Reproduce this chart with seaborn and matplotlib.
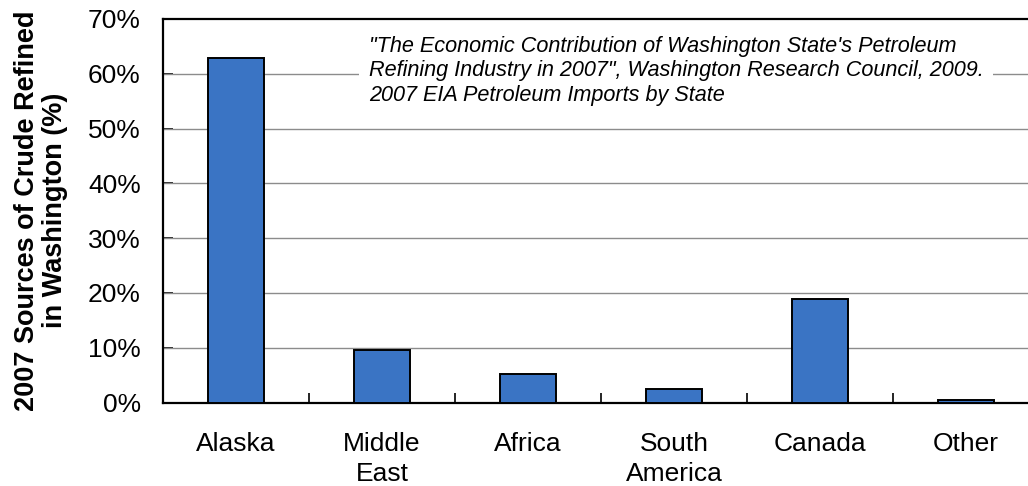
import matplotlib
matplotlib.use("Agg")
import matplotlib.pyplot as plt
import matplotlib.ticker as mticker
import seaborn as sns
import pandas as pd

# Share of crude oil refined in Washington by source region, 2007 (%)
regions = ["Alaska", "Middle\nEast", "Africa", "South\nAmerica", "Canada", "Other"]
shares = [62.8, 9.6, 5.2, 2.4, 18.9, 0.5]
y_ticks = [0, 10, 20, 30, 40, 50, 60, 70]

source_note = ("\"The Economic Contribution of Washington State's Petroleum\n"
               "Refining Industry in 2007\", Washington Research Council, 2009.\n"
               "2007 EIA Petroleum Imports by State")
y_title = "2007 Sources of Crude Refined\nin Washington (%)"

sns.set_theme(style="white")
plt.rcParams["font.family"] = ["Liberation Sans", "DejaVu Sans"]
plt.rcParams["ytick.major.pad"] = 16
plt.rcParams["xtick.major.pad"] = 22

df = pd.DataFrame({"region": regions, "share": shares})

fig = plt.figure(figsize=(10.28, 4.86), dpi=100)
ax = fig.add_axes([163 / 1028, 1 - 402.5 / 486, 876 / 1028, (402.5 - 19) / 486])

sns.barplot(data=df, x="region", y="share", color="#3A74C4", saturation=1,
            edgecolor="black", linewidth=1.4, width=0.39, ax=ax, zorder=3)

ax.set_xlim(-0.5, len(regions) - 0.5)
ax.set_ylim(y_ticks[0], y_ticks[-1])
ax.set_yticks(y_ticks)
ax.yaxis.set_major_formatter(mticker.FuncFormatter(lambda v, _: f"{v:.0f}%"))

# gridlines on interior ticks only
for t in y_ticks[1:-1]:
    ax.axhline(t, color="#8c8c8c", lw=1.0, zorder=1)

for side in ["left", "bottom", "top"]:
    ax.spines[side].set_visible(True)
    ax.spines[side].set_color("black")
    ax.spines[side].set_linewidth(1.6)
ax.spines["right"].set_visible(False)

ax.set_xticks(range(len(regions)), regions)
for lbl in ax.get_xticklabels():
    lbl.set_linespacing(1.35)
ax.tick_params(axis="y", which="major", direction="in", length=7, width=1.2,
               color="black", left=True, labelsize=19, pad=16, labelcolor="black")
ax.tick_params(axis="x", which="major", length=0, labelsize=19, pad=21,
               labelcolor="black")
ax.xaxis.set_minor_locator(mticker.FixedLocator([i + 0.5 for i in range(len(regions) - 1)]))
ax.tick_params(axis="x", which="minor", direction="in", length=7, width=1.2,
               color="black", bottom=True)

ax.set_xlabel("")
ax.set_ylabel(y_title, fontsize=19.5, fontweight="bold", color="black",
              linespacing=1.1)
ax.yaxis.set_label_coords(-0.108, 0.5)

ax.text(0.235, 0.955, source_note, transform=ax.transAxes, ha="left", va="top",
        fontsize=15.6, style="italic", color="black", linespacing=1.2, zorder=2,
        bbox=dict(facecolor="white", edgecolor="none", pad=7))

fig.savefig("out.png", dpi=100)
